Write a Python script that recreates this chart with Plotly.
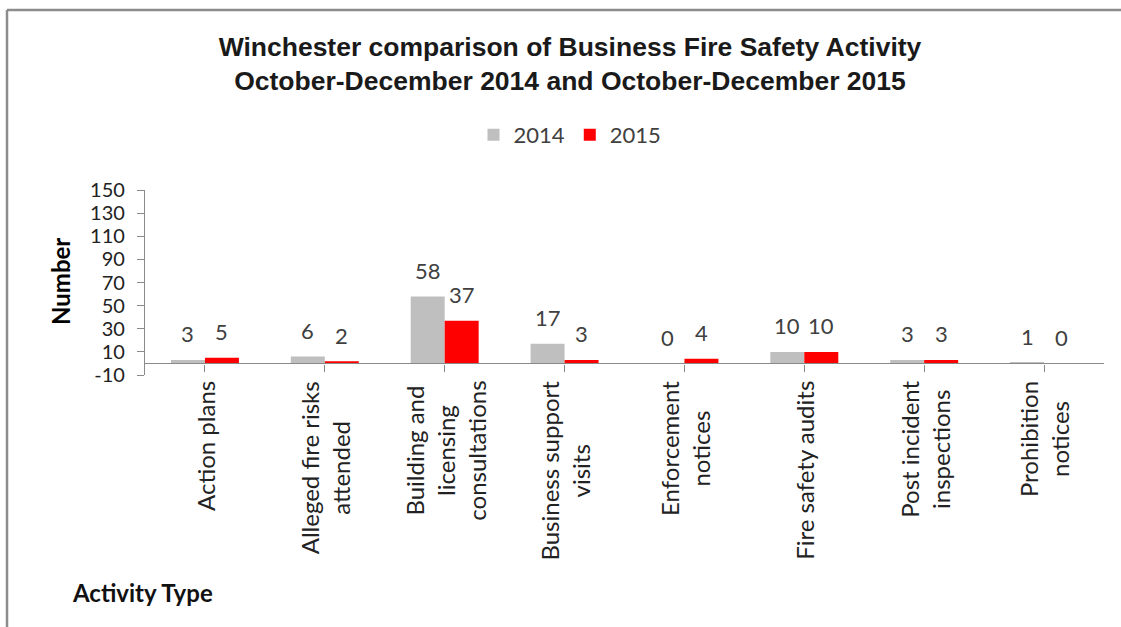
import plotly.graph_objects as go

categories = [
    "Action plans",
    "Alleged fire risks<br>attended",
    "Building and<br>licensing<br>consultations",
    "Business support<br>visits",
    "Enforcement<br>notices",
    "Fire safety audits",
    "Post incident<br>inspections",
    "Prohibition<br>notices",
]
values_2014 = [3, 6, 58, 17, 0, 10, 3, 1]
values_2015 = [5, 2, 37, 3, 4, 10, 3, 0]
series_names = ["2014", "2015"]
series_colors = ["#BFBFBF", "#FF0000"]
y_tick_values = [-10, 10, 30, 50, 70, 90, 110, 130, 150]
y_tick_labels = ["-10", "10", "30", "50", "70", "90", "110", "130", "150"]

W, H = 1121, 627
ML, MR, MT, MB = 145, 17, 190, 252
Y_MIN, Y_MAX = -10, 150
BARGAP = 0.433
LABEL_FONT = "Lato, 'Open Sans', sans-serif"
TEXT_COL = "#404040"
AXIS_COL = "#8A8A8A"

plot_w = W - ML - MR
plot_h = H - MT - MB

def px_x(px):
    return (px - ML) / plot_w

def px_y(py):
    return (H - MB - py) / plot_h

idx = list(range(len(categories)))

fig = go.Figure()
for name, vals, col in zip(series_names, [values_2014, values_2015], series_colors):
    fig.add_trace(go.Bar(name=name, x=idx, y=vals, marker=dict(color=col, line=dict(width=0))))

# data labels above bars
half = (1 - BARGAP) / 4
annotations = []
for s, vals in enumerate([values_2014, values_2015]):
    off = -half if s == 0 else half
    for i, v in zip(idx, vals):
        annotations.append(dict(
            x=i + off, y=v, xref="x", yref="y", text=str(v), showarrow=False,
            yanchor="middle", yshift=26,
            font=dict(family=LABEL_FONT, size=22, color=TEXT_COL),
        ))

# category labels (rotated, lines centred)
for i, c in zip(idx, categories):
    annotations.append(dict(
        x=i, y=px_y(379), xref="x", yref="paper", text=c, showarrow=False,
        textangle=-90, align="center", xanchor="center", yanchor="top",
        font=dict(family=LABEL_FONT, size=24, color="#222222"),
    ))

annotations.append(dict(
    x=px_x(60), y=px_y(282), xref="paper", yref="paper", text="<b>Number</b>",
    textangle=-90, showarrow=False, xanchor="center", yanchor="middle",
    font=dict(family=LABEL_FONT, size=24, color="#000000"),
))
annotations.append(dict(
    x=px_x(70), y=px_y(592), xref="paper", yref="paper", text="<b>Activity Type</b>",
    showarrow=False, xanchor="left", yanchor="middle",
    font=dict(family=LABEL_FONT, size=24, color="#111111"),
))

zero_frac = (0 - Y_MIN) / (Y_MAX - Y_MIN)

shapes = [
    dict(type="line", xref="paper", yref="paper", x0=px_x(7), x1=px_x(1130),
         y0=px_y(10), y1=px_y(10), line=dict(color="#8C8C8C", width=2.5)),
    dict(type="line", xref="paper", yref="paper", x0=px_x(7), x1=px_x(7),
         y0=px_y(10), y1=px_y(640), line=dict(color="#8C8C8C", width=2.5)),
]

fig.update_layout(
    width=W, height=H,
    margin=dict(l=ML, r=MR, t=MT, b=MB, autoexpand=False),
    paper_bgcolor="white", plot_bgcolor="white",
    barmode="group", bargap=BARGAP, bargroupgap=0,
    title=dict(
        text="<b>Winchester comparison of Business Fire Safety Activity<br>October-December 2014 and October-December 2015</b>",
        x=570 / W, xanchor="center", xref="container",
        y=1 - 56 / H, yanchor="top", yref="container",
        font=dict(family="Liberation Sans, Arial, sans-serif", size=26.5, color="#1A1A1A"),
    ),
    legend=dict(
        orientation="h", x=px_x(570), xanchor="center", y=px_y(135), yanchor="middle",
        font=dict(family=LABEL_FONT, size=22, color=TEXT_COL),
        bgcolor="rgba(0,0,0,0)", itemwidth=30,
    ),
    xaxis=dict(
        tickmode="array", tickvals=idx, ticktext=[""] * len(idx),
        showticklabels=False,
        range=[-0.5, len(categories) - 0.5],
        anchor="free", position=zero_frac,
        showline=True, linecolor=AXIS_COL, linewidth=1.3,
        ticks="outside", ticklen=7, tickcolor=AXIS_COL, tickson="boundaries",
        showgrid=False, zeroline=False,
        automargin=False,
    ),
    yaxis=dict(
        range=[Y_MIN, Y_MAX], tickmode="array", tickvals=y_tick_values,
        ticktext=y_tick_labels,
        showline=True, linecolor=AXIS_COL, linewidth=1.3,
        ticks="outside", ticklen=7, tickcolor=AXIS_COL, ticklabelstandoff=8,
        showgrid=False, zeroline=False,
        tickfont=dict(family=LABEL_FONT, size=20, color="#222222"),
        automargin=False,
    ),
    annotations=annotations,
    shapes=shapes,
    showlegend=True,
)

fig.write_html(
    "out.html",
    config={"displayModeBar": False},
    post_script="document.body.style.margin='0px';document.body.style.overflow='hidden';",
)
